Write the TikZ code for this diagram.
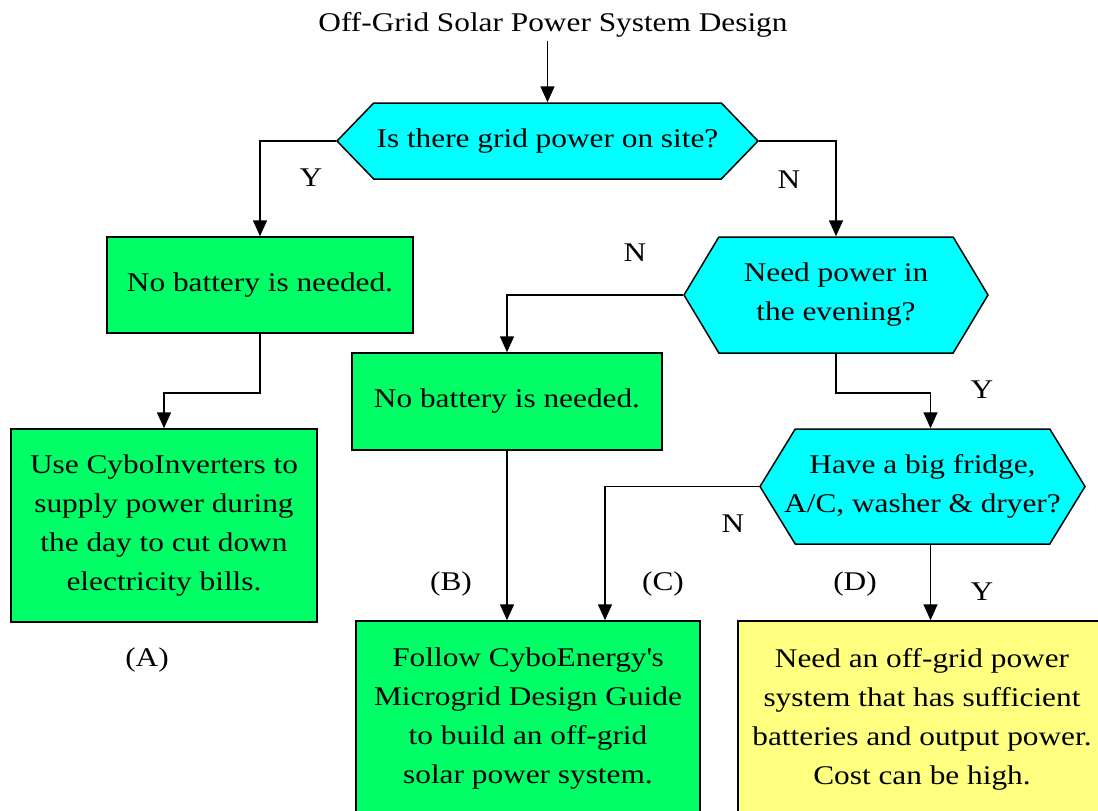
\documentclass[tikz,border=0pt]{standalone}
\usepackage{fontspec}
\setmainfont{Liberation Serif}[FakeStretch=1.16]
\usetikzlibrary{arrows.meta,shapes.symbols}
\definecolor{askcyan}{RGB}{0,255,255}
\definecolor{boxgreen}{RGB}{0,255,102}
\definecolor{boxyellow}{RGB}{255,255,128}

\begin{document}
\begin{tikzpicture}[x=1pt,y=-1pt,
    font=\fontsize{27}{39}\selectfont,
    arr/.style={-{Triangle[width=14pt,length=16pt]},line width=1.6pt},
    ask/.style={signal,signal to=west and east,draw,line width=1.5pt,
      fill=askcyan,inner sep=0pt,align=center},
    greenbox/.style={rectangle,draw,line width=1.5pt,fill=boxgreen,
      inner sep=2pt,align=center},
    yellowbox/.style={greenbox,fill=boxyellow}]
    \path[fill=white,use as bounding box] (0,0) rectangle (1098,811);
    %--- title and first question ---
    \node (title) at (553,25) {Off-Grid Solar Power System Design};
    \node[ask,signal pointer angle=92,minimum width=421,minimum height=76]
      (hexone) at (547.5,141) {Is there grid power on site?};
    %--- left branch (Y) ---
    \node[greenbox,minimum width=306,minimum height=96]
      (boxone) at (260,285) {No battery is needed.};
    \node[greenbox,minimum width=306,minimum height=193] (boxtwo) at (164,525.5)
      {Use CyboInverters to\\supply power during\\the day to cut down\\electricity bills.};
    %--- right branch (N) ---
    \node[ask,signal pointer angle=118,minimum width=304,minimum height=116]
      (hextwo) at (836,295) {Need power in\\the evening?};
    \node[greenbox,minimum width=310,minimum height=97]
      (boxthree) at (507,401.5) {No battery is needed.};
    \node[ask,signal pointer angle=117,inner xsep=-15pt,minimum width=325,
      minimum height=115] (hexthree) at (922.5,486.5)
      {Have a big fridge,\\A/C, washer \& dryer?};
    \node[greenbox,minimum width=344,minimum height=196] (boxfour) at (528,719)
      {Follow CyboEnergy\textquotesingle s\\Microgrid Design Guide\\to build an off-grid\\solar power system.};
    \node[yellowbox,minimum width=368,minimum height=196] (boxfive) at (922,719)
      {Need an off-grid power\\system that has sufficient\\batteries and output power.\\Cost can be high.};
    %--- connectors ---
    \draw[arr] (title.south -| hexone.north) -- (hexone.north);
    \draw[arr] (hexone.west) -| (boxone.north);
    \draw[arr] (hexone.east) -| (hextwo.north);
    \draw[arr] (boxone.south) -- ++(0,59) -| (boxtwo.north);
    \draw[arr] (hextwo.west) -| (boxthree.north);
    \draw[arr] (hextwo.south) -- ++(0,39) -| ([xshift=8]hexthree.north);
    \draw[arr] (boxthree.south) -- (boxthree.south |- boxfour.north);
    \draw[arr] (hexthree.west) -| ([xshift=77]boxfour.north);
    \draw[arr] ([xshift=8]hexthree.south) -- ([xshift=8]hexthree.south |- boxfive.north);
    %--- answers and case marks ---
    \node (yone) at (311,178) {Y};
    \node (none) at (789,180) {N};
    \node (ntwo) at (635,253) {N};
    \node (ytwo) at (982,390) {Y};
    \node (nthree) at (733,524) {N};
    \node (ythree) at (982,592) {Y};
    \node (casea) at (147,660) {(A)};
    \node (caseb) at (451,584) {(B)};
    \node (casec) at (663,584) {(C)};
    \node (cased) at (855,584) {(D)};
  \end{tikzpicture}
\end{document}
